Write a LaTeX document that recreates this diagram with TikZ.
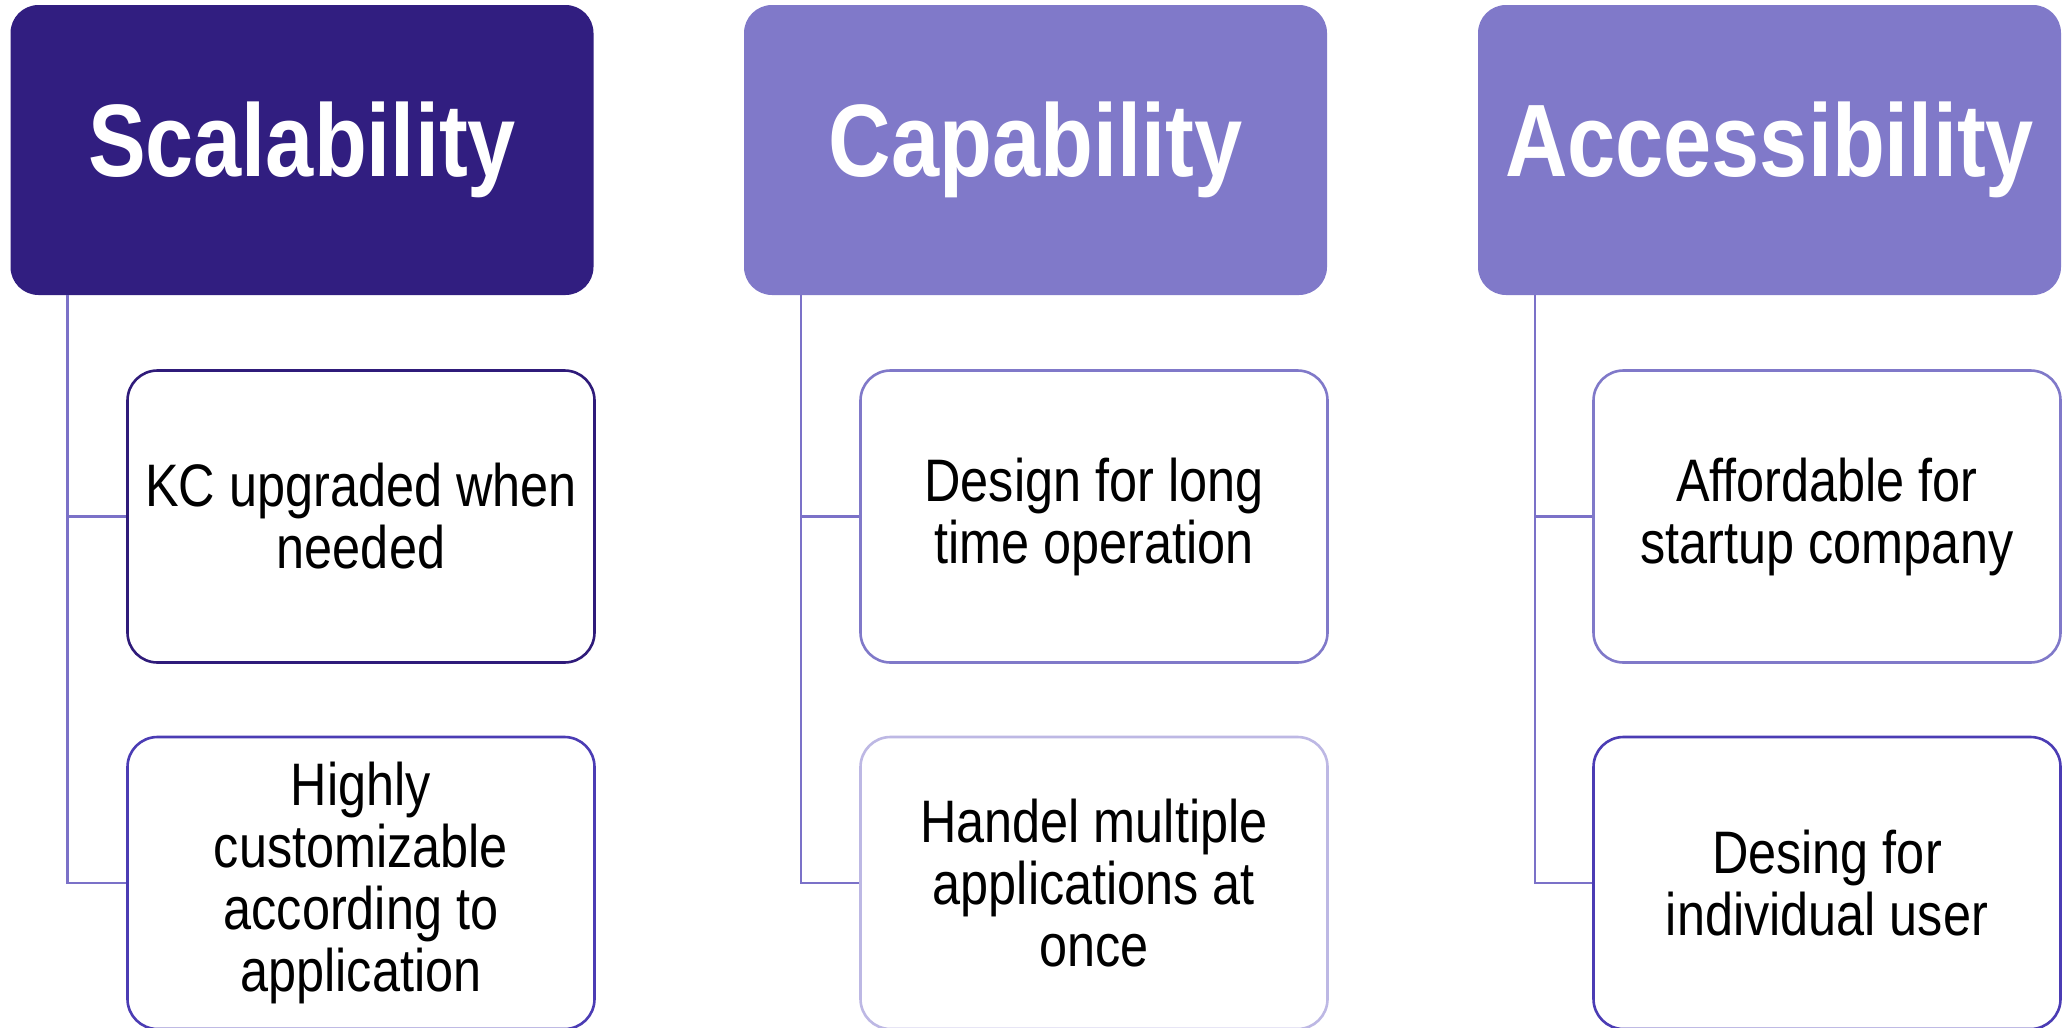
\documentclass[tikz,border=0pt]{standalone}
\usepackage{fontspec}
\setmainfont{Liberation Sans}[FakeStretch=0.84]
\begin{document}
\begin{tikzpicture}[x=1pt,y=-1pt,
  hdr/.style={rectangle, rounded corners=28pt, minimum width=583pt, minimum height=290pt,
    inner sep=0pt, text=white, font=\fontsize{103}{106}\selectfont\bfseries},
  item/.style={rectangle, rounded corners=30pt, draw, line width=2.6pt, fill=white,
    minimum width=467pt, minimum height=292pt, inner sep=0pt, align=center,
    font=\fontsize{60}{62}\selectfont},
  conn/.style={draw=lineC, line width=2.6pt}]
\definecolor{darkC}{HTML}{311E80}
\definecolor{lightC}{HTML}{8079C9}
\definecolor{lineC}{HTML}{7B71C8}
\definecolor{deepB}{HTML}{2F1B7A}
\definecolor{midB}{HTML}{4B3CB4}
\definecolor{softB}{HTML}{8079C9}
\definecolor{paleB}{HTML}{BDB8E4}
\useasboundingbox[fill=white] (0,0) rectangle (2062,1028);

% column headers
\node[hdr, fill=darkC]  (h1) at (302,150)  {Scalability};
\node[hdr, fill=lightC] (h2) at (1035.5,150) {Capability};
\node[hdr, fill=lightC] (h3) at (1769.5,150) {Accessibility};

% items
\node[item, draw=deepB] (c1a) at (361,516.5) {KC upgraded when\\needed};
\node[item, draw=midB]  (c1b) at (361,883) {Highly\\customizable\\according to\\application};
\node[item, draw=softB] (c2a) at (1094,516.5) {Design for long\\time operation};
\node[item, draw=paleB] (c2b) at (1094,883) {Handel multiple\\applications at\\once};
\node[item, draw=softB] (c3a) at (1827,516.5) {Affordable for\\startup company};
\node[item, draw=midB]  (c3b) at (1827,883) {Desing for\\individual user};

% tree connectors
\coordinate (t1) at ([xshift=57pt]h1.south west);
\coordinate (t2) at ([xshift=57pt]h2.south west);
\coordinate (t3) at ([xshift=57pt]h3.south west);
\draw[conn] (t1) |- (c1b.west);
\draw[conn] (t1) |- (c1a.west);
\draw[conn] (t2) |- (c2b.west);
\draw[conn] (t2) |- (c2a.west);
\draw[conn] (t3) |- (c3b.west);
\draw[conn] (t3) |- (c3a.west);
\end{tikzpicture}
\end{document}
